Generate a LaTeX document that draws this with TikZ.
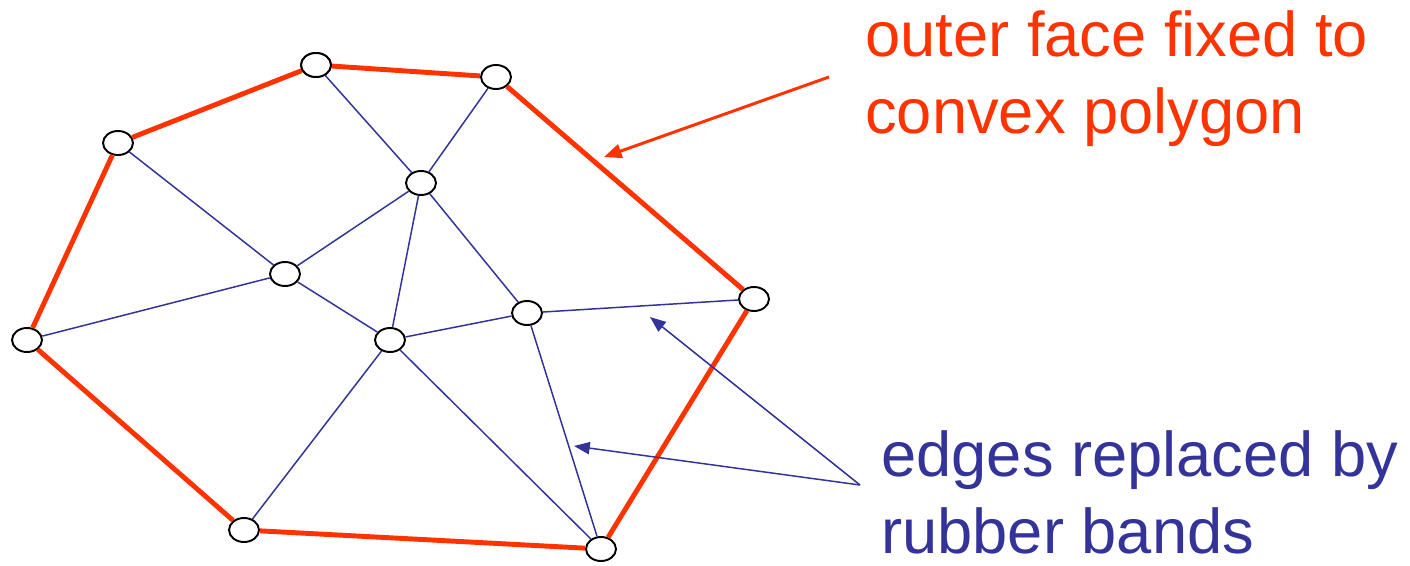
\documentclass[tikz,border=0pt]{standalone}
\usepackage{fontspec}
\setmainfont{Liberation Sans}
\usetikzlibrary{arrows.meta,shapes.geometric}
\definecolor{outerred}{HTML}{FF3300}
\definecolor{bandblue}{HTML}{333399}
\tikzset{
  vtx/.style={ellipse,draw=black,line width=1.1pt,fill=white,minimum width=0.6cm,minimum height=0.48cm,inner sep=0pt},
  outeredge/.style={outerred,line width=2.8pt},
  band/.style={bandblue,line width=0.85pt},
  lbl/.style={font=\fontsize{36}{43.5}\selectfont,align=left,inner sep=0pt,anchor=base west}
}
\begin{document}
\begin{tikzpicture}[x=0.02cm,y=-0.02cm]
\useasboundingbox (0,0) rectangle (1410,565);
\foreach \n/\x/\y in {v1/316/65,v2/496/77,v3/118/143,v4/421/183,v5/285/274,v6/754/299,v7/27/340,v8/527/313,v9/390/340,v10/244/530,v11/601/549}{
  \node[vtx] (\n) at (\x,\y) {};
}
% rubber bands
\foreach \p/\q in {v3/v5,v1/v4,v2/v4,v4/v5,v4/v9,v4/v8,v5/v7,v5/v9,v9/v8,v8/v6,v9/v10,v9/v11,v8/v11}{
  \draw[band] (\p) -- (\q);
}
% outer face
\foreach \p/\q in {v7/v3,v3/v1,v1/v2,v2/v6,v6/v11,v11/v10,v10/v7}{
  \draw[outeredge] (\p) -- (\q);
}
\foreach \n in {v1,...,v11}{ \node[vtx] at (\n) {}; }

% labels (anchor is the baseline of the last line)
\node[lbl,text=outerred] (outer) at (865,133) {outer face fixed to\\convex polygon};
\node[lbl,text=bandblue] (bands) at (881,553) {edges replaced by\\rubber bands};
\coordinate (redtail) at (829,77);
\coordinate (redtip) at (604,157);
\coordinate (bluetail) at (860,485);
\coordinate (bluetipa) at (650,317);
\coordinate (bluetipb) at (574,446);
\draw[outerred,line width=1.7pt,-{Triangle[length=10pt,width=8pt]}] (redtail) -- (redtip);
\draw[band,-{Triangle[length=9pt,width=7pt]}] (bluetail) -- (bluetipa);
\draw[band,-{Triangle[length=9pt,width=7pt]}] (bluetail) -- (bluetipb);
\end{tikzpicture}
\end{document}
